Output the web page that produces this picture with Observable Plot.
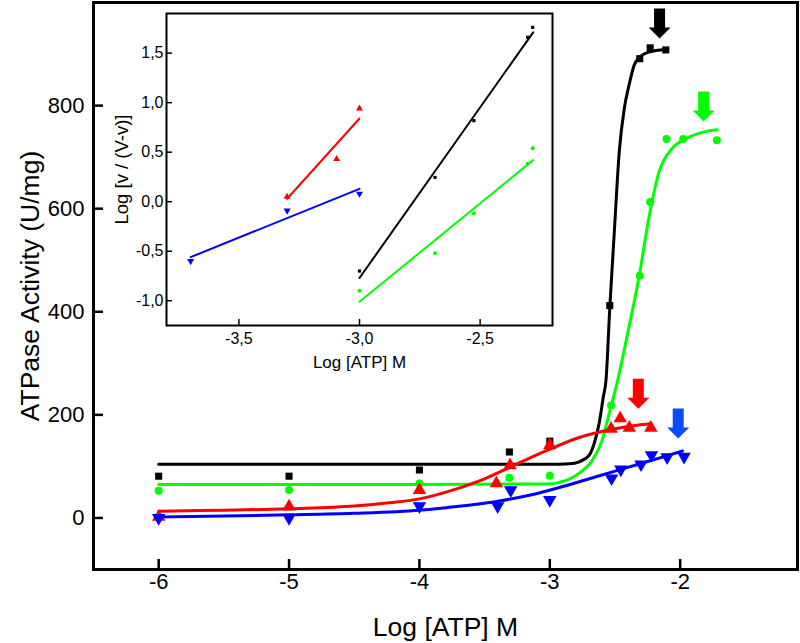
<!DOCTYPE html>
<html>
<head>
<meta charset="utf-8">
<script src="https://cdn.jsdelivr.net/npm/d3@7"></script>
<script src="https://cdn.jsdelivr.net/npm/@observablehq/plot@0.6"></script>
<style>
  body { margin: 0; background: white; }
  #wrap { position: relative; width: 800px; height: 643px; font-family: "Liberation Sans", Arial, sans-serif; }
  #inset { position: absolute; left: 100px; top: 0px; }
</style>
</head>
<body>
<div id="wrap"><div id="main"></div><div id="inset"></div></div>
<script>
// ---------- Main chart data ----------
const xTicks = [-6, -5, -4, -3, -2];
const yTicks = [0, 200, 400, 600, 800];

// measured points
const blackX = [-6, -5, -4, -3.31, -3.0, -2.54, -2.31, -2.23, -2.11];
const blackY = [81, 81, 93, 128, 149, 412, 891, 912, 908];
const greenX = [-6, -5, -4, -3.31, -3.0, -2.53, -2.31, -2.23, -2.105, -1.977, -1.719];
const greenY = [53, 54, 67, 78, 82, 218, 470, 613, 735, 735, 733];
const redX = [-6, -5, -4, -3.41, -3.305, -3.0, -2.53, -2.46, -2.39, -2.225];
const redY = [2, 22, 54, 67, 102, 141, 173, 193, 175, 175];
const blueX = [-6, -5, -4, -3.40, -3.30, -3.0, -2.526, -2.455, -2.30, -2.22, -2.10, -1.97];
const blueY = [0, 0, 23, 23, 54, 35, 77, 94, 104, 122, 118, 119];

// fitted curves
const blackFitX = [-6, -4, -3.0, -2.85, -2.774, -2.697, -2.659, -2.621, -2.590, -2.569, -2.539, -2.506, -2.467, -2.429, -2.391, -2.352, -2.314, -2.238, -2.11];
const blackFitY = [104, 104, 104, 105, 109, 122, 145, 184, 234, 267, 412, 551, 711, 794, 841, 879, 893, 904, 909];
const greenFitX = [-6, -4, -3.027, -2.874, -2.774, -2.674, -2.598, -2.544, -2.483, -2.406, -2.314, -2.238, -2.161, -2.061, -1.954, -1.831, -1.716];
const greenFitY = [65, 65, 66, 73, 87, 112, 151, 203, 263, 354, 470, 585, 672, 717, 736, 748, 753];
const redFitX = [-6, -5, -4.5, -4.25, -4.0, -3.795, -3.54, -3.285, -3.03, -2.774, -2.52, -2.263, -2.233];
const redFitY = [13, 18, 23, 29, 37, 50, 72, 101, 130, 156, 172, 182, 183];
const blueFitX = [-6, -5, -4.5, -4.0, -3.795, -3.41, -3.157, -2.90, -2.646, -2.39, -2.136, -1.982];
const blueFitY = [2, 6, 9, 15, 20, 32, 44, 61, 80, 99, 118, 130];

// arrow annotations (tip positions)
const arrowX = [-2.158, -1.82, -2.321, -2.015];
const arrowTipY = [930, 769, 212, 154];
const arrowColor = ["#000000", "#00ff00", "#ff0000", "#0a4cf5"];

// ---------- Inset data ----------
const insetXTicks = [-3.5, -3.0, -2.5];
const insetYTicks = [-1.0, -0.5, 0.0, 0.5, 1.0, 1.5];
const inRedX = [-3.30, -3.095, -3.0], inRedY = [0.05, 0.43, 0.94];
const inRedLineX = [-3.30, -3.0], inRedLineY = [0.03, 0.84];
const inBlueX = [-3.70, -3.30, -3.0], inBlueY = [-0.60, -0.09, 0.08];
const inBlueLineX = [-3.70, -3.0], inBlueLineY = [-0.56, 0.13];
const inBlackX = [-3.0, -2.687, -2.526, -2.303, -2.282], inBlackY = [-0.70, 0.245, 0.818, 1.66, 1.76];
const inBlackLineX = [-3.0, -2.28], inBlackLineY = [-0.77, 1.71];
const inGreenX = [-3.0, -2.687, -2.526, -2.303, -2.282], inGreenY = [-0.90, -0.52, -0.118, 0.384, 0.54];
const inGreenLineX = [-3.0, -2.28], inGreenLineY = [-1.01, 0.42];

const zip = (xs, ys) => xs.map((x, i) => ({x, y: ys[i]}));
const font = "Liberation Sans, Arial, Helvetica, sans-serif";

const arrows = arrowX.map((x, i) => ({x, y: arrowTipY[i], color: arrowColor[i]}));
const arrowShape = {
  draw(ctx, l) {
    const sw = 5.5, hw = 11, hh = 11;
    ctx.moveTo(-sw, 0);
    ctx.lineTo(sw, 0);
    ctx.lineTo(sw, -(l - hh));
    ctx.lineTo(hw, -(l - hh));
    ctx.lineTo(0, -l);
    ctx.lineTo(-hw, -(l - hh));
    ctx.lineTo(-sw, -(l - hh));
    ctx.closePath();
  }
};

const main = Plot.plot({
  width: 800,
  height: 643,
  marginLeft: 93,
  marginRight: 3,
  marginTop: 2,
  marginBottom: 74,
  style: {fontFamily: font, color: "black", background: "white"},
  x: {domain: [-6.5, -1.1]},
  y: {domain: [-100, 1000]},
  marks: [
    Plot.axisX({ticks: xTicks, tickSize: -10, tickPadding: 14, tickFormat: d => String(d), fontSize: 22, strokeWidth: 2.5, label: null}),
    Plot.axisY({ticks: yTicks, tickSize: -10, tickPadding: 19, tickFormat: d => String(d), fontSize: 22, strokeWidth: 2.5, label: null}),
    Plot.text(["ATPase Activity (U/mg)"], {frameAnchor: "left", dx: -63, rotate: -90, textAnchor: "middle", lineAnchor: "middle", fontSize: 26.5, fill: "black"}),
    Plot.text(["Log [ATP] M"], {frameAnchor: "bottom", dy: 58, textAnchor: "middle", lineAnchor: "middle", fontSize: 26.5, fill: "black"}),
    Plot.line(zip(blackFitX, blackFitY), {x: "x", y: "y", stroke: "#000000", strokeWidth: 3, curve: "monotone-x"}),
    Plot.line(zip(greenFitX, greenFitY), {x: "x", y: "y", stroke: "#00ff00", strokeWidth: 3, curve: "monotone-x"}),
    Plot.line(zip(redFitX, redFitY), {x: "x", y: "y", stroke: "#ff0000", strokeWidth: 3, curve: "monotone-x"}),
    Plot.line(zip(blueFitX, blueFitY), {x: "x", y: "y", stroke: "#0000ff", strokeWidth: 3, curve: "monotone-x"}),
    Plot.dot(zip(blackX, blackY), {x: "x", y: "y", symbol: "square", r: 4, fill: "#000000"}),
    Plot.dot(zip(greenX, greenY), {x: "x", y: "y", symbol: "circle", r: 4, fill: "#00ff00"}),
    Plot.dot(zip(redX, redY), {x: "x", y: "y", symbol: "triangle", r: 5, fill: "#ff0000"}),
    Plot.dot(zip(blueX, blueY), {x: "x", y: "y", symbol: "triangle", r: 5, rotate: 180, fill: "#0000ff"}),
    ...arrows.map(a => Plot.vector([a], {x: "x", y: "y", length: 30, rotate: 180, anchor: "end", shape: arrowShape, fill: a.color, stroke: "none"})),
    Plot.frame({stroke: "black", strokeWidth: 3})
  ]
});
document.getElementById("main").appendChild(main);

const commaFmt = d => d.toFixed(1).replace(".", ",");

const inset = Plot.plot({
  width: 460,
  height: 385,
  marginLeft: 66,
  marginRight: 8,
  marginTop: 13,
  marginBottom: 60,
  style: {fontFamily: font, color: "black"},
  x: {domain: [-3.8, -2.2]},
  y: {domain: [-1.25, 1.9]},
  marks: [
    Plot.frame({fill: "white", stroke: "none"}),
    Plot.axisX({ticks: insetXTicks, tickSize: -6, tickPadding: 13, tickFormat: commaFmt, fontSize: 16, strokeWidth: 1.5, label: null}),
    Plot.axisY({ticks: insetYTicks, tickSize: -6, tickPadding: 9, tickFormat: commaFmt, fontSize: 16, strokeWidth: 1.5, label: null}),
    Plot.text(["Log [v / (V-v)]"], {frameAnchor: "left", dx: -44, rotate: -90, textAnchor: "middle", lineAnchor: "middle", fontSize: 18.5, fill: "black"}),
    Plot.text(["Log [ATP] M"], {frameAnchor: "bottom", dy: 37, textAnchor: "middle", lineAnchor: "middle", fontSize: 17, fill: "black"}),
    Plot.line(zip(inRedLineX, inRedLineY), {x: "x", y: "y", stroke: "#ff0000", strokeWidth: 2}),
    Plot.line(zip(inBlueLineX, inBlueLineY), {x: "x", y: "y", stroke: "#0000ff", strokeWidth: 2}),
    Plot.line(zip(inBlackLineX, inBlackLineY), {x: "x", y: "y", stroke: "#000000", strokeWidth: 2}),
    Plot.line(zip(inGreenLineX, inGreenLineY), {x: "x", y: "y", stroke: "#00ff00", strokeWidth: 2}),
    Plot.dot(zip(inRedX, inRedY), {x: "x", y: "y", symbol: "triangle", r: 2.6, fill: "#ff0000"}),
    Plot.dot(zip(inBlueX, inBlueY), {x: "x", y: "y", symbol: "triangle", r: 2.6, rotate: 180, fill: "#0000ff"}),
    Plot.dot(zip(inBlackX, inBlackY), {x: "x", y: "y", symbol: "square", r: 1.8, fill: "#000000"}),
    Plot.dot(zip(inGreenX, inGreenY), {x: "x", y: "y", symbol: "circle", r: 2, fill: "#00ff00"}),
    Plot.frame({stroke: "black", strokeWidth: 2})
  ]
});
document.getElementById("inset").appendChild(inset);
</script>
</body>
</html>
